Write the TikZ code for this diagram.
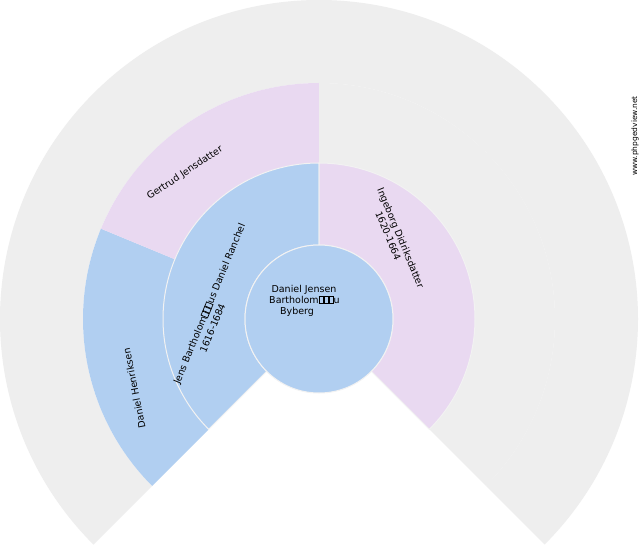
\documentclass[tikz,border=0pt]{standalone}
\usepackage{fontspec}
\setmainfont{DejaVu Sans}
\definecolor{fblue}{HTML}{B1CFF1}
\definecolor{fpink}{HTML}{E9D9F1}
\definecolor{fgray}{HTML}{EEEEEE}
\definecolor{fline}{HTML}{F2F2F2}
\newcommand\tofu{\begingroup\fboxsep=0pt\fboxrule=0.7pt\fbox{\rule{0pt}{6.3pt}\hspace{3.6pt}}\endgroup}
\newcommand\fansector[6]{\fill[#1,#6] (#2:#5) arc[start angle=#2,end angle=#3,radius=#5] -- (#3:#4) arc[start angle=#3,end angle=#2,radius=#4] -- cycle;}
\tikzset{
  lbl/.style={font=\fontsize{9.5}{11}\selectfont, inner sep=0pt, text=black},
  wmark/.style={font=\fontsize{7.5}{8}\selectfont, inner sep=0pt, text=black},
  segline/.style={draw=fline, line width=1pt}
}
\begin{document}
\begin{tikzpicture}[x=1pt,y=1pt]
\useasboundingbox (0,0) rectangle (640,550);
\fill[white] (0,0) rectangle (640,550);
\begin{scope}[shift={(319,231)}]
  % generation 3 (unknown)
  \fansector{fgray}{-45}{225}{236}{319}{}
  % generation 2
  \fansector{fblue}{157.5}{225}{156}{236}{}
  \fansector{fpink}{90}{157.5}{156}{236}{}
  \fansector{fgray}{-45}{90}{156}{236}{}
  % generation 1
  \fansector{fblue}{90}{225}{74}{156}{segline}
  \fansector{fpink}{-45}{90}{74}{156}{segline}
  % root
  \filldraw[fill=fblue, segline] (0,0) circle[radius=74];
\end{scope}
% root label
\node[lbl, anchor=base] (r1) at (304,258) {Daniel Jensen};
\node[lbl, anchor=base] (r2) at (304.5,246.7) {Bartholom\tofu\tofu\tofu u};
\node[lbl, anchor=base] (r3) at (297,235.7) {Byberg};
% father
\node[lbl, rotate=67.5] (f1) at (210,246) {Jens Bartholom\tofu\tofu\tofu us Daniel Ranchel};
\node[lbl, rotate=67.5] (f2) at (212.5,222) {1616-1684};
% mother
\node[lbl, rotate=-67.5] (m1) at (400,311.7) {Ingeborg Didriksdatter};
\node[lbl, rotate=-67.5] (m2) at (388.3,314.2) {1620-1664};
% grandparents
\node[lbl, rotate=33.75] (g2) at (185,377) {Gertrud Jensdatter};
\node[lbl, rotate=101.25] (g1) at (134.2,161.7) {Daniel Henriksen};
% watermark
\node[wmark, rotate=90] (w) at (635,414) {www.phpgedview.net};
\end{tikzpicture}
\end{document}
